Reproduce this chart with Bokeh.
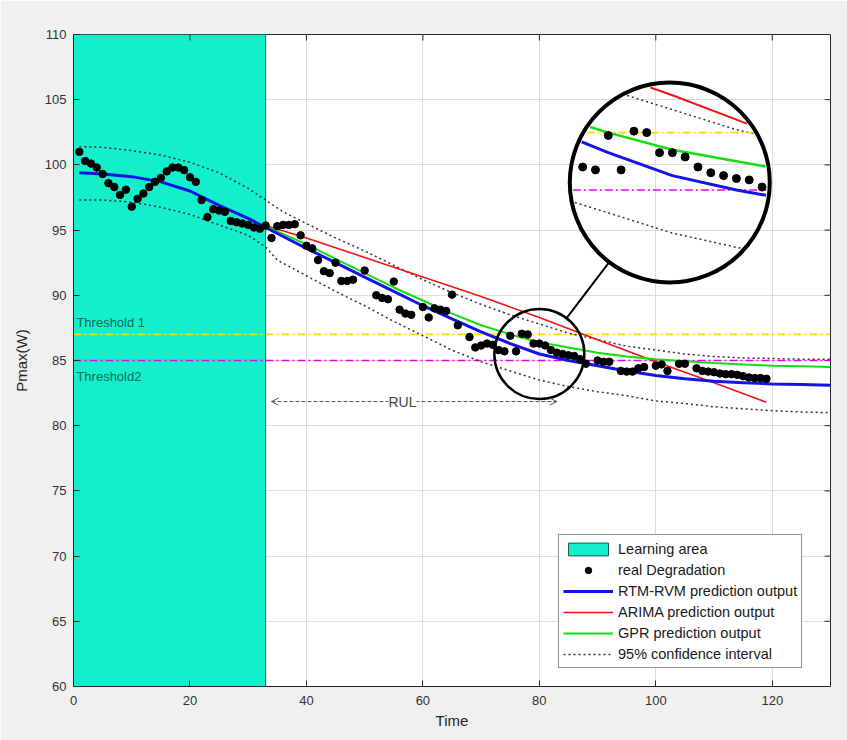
import numpy as np
from bokeh.plotting import figure
from bokeh.models import (FixedTicker, Legend, LegendItem, Arrow, OpenHead, Label)
from bokeh.embed import file_html
from bokeh.resources import INLINE

# ---------------- data ----------------
deg_t = [1, 2, 3, 4, 5, 6, 7, 8, 9, 10, 11, 12, 13, 14, 15, 16, 17, 18, 19, 20, 21, 22, 23, 24, 25,
         26, 27, 28, 29, 30, 31, 32, 33,
         34, 35, 36, 37, 38, 39, 40, 41, 42, 43, 44, 45, 46, 47, 48, 50, 52, 53, 54, 55, 56, 57, 58,
         60, 61, 62, 63, 64, 65, 66, 68, 69, 70, 71, 72,
         73, 74, 75, 76, 77, 78, 79, 80, 81, 82, 83, 84, 85, 86, 87, 88,
         90, 91, 92, 94, 95, 96, 97, 98, 100, 101, 102, 104, 105,
         107, 108, 109, 110, 111, 112, 113, 114, 115, 116, 117, 118, 119]
deg_v = [101.0, 100.3, 100.1, 99.8, 99.3, 98.6, 98.3, 97.7, 98.1, 96.8, 97.4, 97.8, 98.3, 98.7,
         99.0, 99.5, 99.8, 99.8, 99.6, 99.05, 98.7, 97.3, 96.0, 96.6, 96.5, 96.4, 95.7, 95.6,
         95.5, 95.4, 95.2, 95.1, 95.35,
         94.4, 95.3, 95.4, 95.4, 95.45, 94.6, 93.8, 93.6, 92.7, 91.85, 91.7, 92.5, 91.1, 91.1,
         91.2, 91.9, 90.0, 89.8, 89.7, 91.05, 88.9, 88.6, 88.5, 89.1, 88.3, 89.0, 88.9, 88.8,
         90.05, 87.7, 86.8, 86.0, 86.15, 86.3, 86.2,
         85.8, 85.7, 86.9, 85.7, 87.05, 87.0, 86.3, 86.3, 86.15, 85.8, 85.6, 85.5, 85.4, 85.35,
         85.1, 84.75,
         85.0, 84.9, 84.9, 84.2, 84.15, 84.15, 84.4, 84.5, 84.6, 84.7, 84.2, 84.75, 84.75,
         84.4, 84.2, 84.15, 84.1, 84.0, 83.95, 83.95, 83.9, 83.8, 83.7, 83.65, 83.65, 83.6]

rvm_t = [1, 5, 10, 15, 20, 25, 30, 33, 40, 45, 50, 55, 60, 65, 70, 75, 80, 85, 90, 95, 100,
         105, 110, 115, 120, 125, 130]
rvm_v = [99.4, 99.3, 99.1, 98.7, 98.0, 96.9, 95.9, 95.2, 93.6, 92.5, 91.4, 90.3, 89.2, 88.2,
         87.2, 86.3, 85.5, 85.0, 84.6, 84.2, 83.85, 83.6, 83.4, 83.3, 83.2, 83.15, 83.1]

arima_t = [33, 40, 50, 60, 70, 80, 90, 100, 110, 119]
arima_v = [95.35, 94.4, 92.9, 91.4, 89.9, 88.3, 86.6, 84.9, 83.3, 81.8]

gpr_t = [33, 40, 45, 50, 55, 60, 65, 70, 75, 80, 85, 90, 95, 100, 105, 110, 115, 120, 125, 130]
gpr_v = [95.3, 93.9, 92.8, 91.7, 90.6, 89.6, 88.6, 87.7, 87.0, 86.4, 86.0, 85.6, 85.3, 85.1,
         84.95, 84.8, 84.7, 84.6, 84.55, 84.5]

ci_up_t = [1, 5, 10, 15, 20, 25, 30, 33, 36, 40, 45, 50, 55, 60, 65, 70, 75, 80, 85, 90, 95,
           100, 105, 110, 115, 120, 125, 130]
ci_up_v = [101.4, 101.35, 101.1, 100.75, 100.2, 99.4, 98.2, 97.3, 96.4, 95.5, 94.4, 93.4, 92.3,
           91.2, 90.2, 89.3, 88.5, 87.8, 87.1, 86.6, 86.1, 85.8, 85.5, 85.3, 85.2, 85.15, 85.1, 85.1]

ci_lo_t = [1, 5, 10, 15, 20, 25, 30, 33, 35, 40, 45, 50, 55, 60, 65, 70, 75, 80, 85, 90, 95,
           100, 105, 110, 115, 120, 125, 130]
ci_lo_v = [97.3, 97.3, 97.15, 96.75, 96.2, 95.4, 94.6, 93.7, 92.7, 91.5, 90.3, 89.2, 88.0, 86.9,
           85.8, 84.9, 84.2, 83.5, 83.0, 82.6, 82.3, 81.9, 81.7, 81.45, 81.3, 81.15, 81.05, 81.0]

threshold1 = 87
threshold2 = 85
learning_end = 33
rul_start, rul_end = 34, 83
x_ticks = [0, 20, 40, 60, 80, 100, 120]
y_ticks = [60, 65, 70, 75, 80, 85, 90, 95, 100, 105, 110]

# ---------------- layout ----------------
W, H = 847, 740
BL, BR, BT, BB = 73, 17, 34, 54
FW, FH = W - BL - BR, H - BT - BB
X0, X1, Y0, Y1 = 0, 130, 60, 110
sx = FW / (X1 - X0)
sy = FH / (Y1 - Y0)
TICK = 6

FONT = "Liberation Sans"
C_BLUE = "#1414E6"
C_RED = "#F01414"
C_GREEN = "#10E010"
C_YEL = "#FFD800"
C_MAG = "#F000F0"
C_DOT = "#333333"
C_LEARN = "#14EFCB"
C_AX = "#262626"

p = figure(width=W, height=H, x_range=(X0, X1), y_range=(Y0, Y1),
           output_backend="svg", toolbar_location=None,
           min_border_left=BL, min_border_right=BR, min_border_top=BT, min_border_bottom=BB)
p.border_fill_color = "#F0F0F0"
p.background_fill_color = "white"
p.outline_line_color = C_AX
p.outline_line_width = 1

for ax in (p.xaxis[0], p.yaxis[0]):
    ax.major_label_text_font = FONT
    ax.major_label_text_font_size = "13px"
    ax.major_label_text_color = "#333333"
    ax.axis_label_text_font = FONT
    ax.axis_label_text_font_size = "15px"
    ax.axis_label_text_font_style = "normal"
    ax.axis_label_text_color = C_AX
    ax.major_tick_in = TICK
    ax.major_tick_out = 0
    ax.minor_tick_in = 0
    ax.minor_tick_out = 0
    ax.axis_line_color = C_AX
    ax.major_tick_line_color = C_AX
p.xaxis.ticker = FixedTicker(ticks=x_ticks)
p.yaxis.ticker = FixedTicker(ticks=y_ticks)
p.xaxis.axis_label = "Time"
p.yaxis.axis_label = "Pmax(W)"
p.xaxis.major_label_standoff = 9
p.yaxis.major_label_standoff = 7
p.xaxis.axis_label_standoff = 4
p.yaxis.axis_label_standoff = 12

p.xgrid.grid_line_color = "#DCDCDC"
p.ygrid.grid_line_color = "#DCDCDC"

# learning area
learn = p.quad(left=[X0], right=[learning_end], bottom=[Y0], top=[Y1],
               fill_color=C_LEARN, line_color="#1E5A50", line_width=1)

# box ticks on top and right (mirror of the bottom/left ticks)
p.segment(x0=x_ticks, x1=x_ticks, y0=[Y1] * len(x_ticks), y1=[Y1 - TICK / sy] * len(x_ticks),
          line_color=C_AX, line_width=1)
p.segment(x0=[X1] * len(y_ticks), x1=[X1 - TICK / sx] * len(y_ticks), y0=y_ticks, y1=y_ticks,
          line_color=C_AX, line_width=1)

# thresholds
p.line([X0, X1], [threshold1, threshold1], line_color=C_YEL, line_width=1.6,
       line_dash="8 3 2 3")
p.line([X0, X1], [threshold2, threshold2], line_color=C_MAG, line_width=1.6,
       line_dash="8 3 2 3")

# confidence interval
ci_up = p.line(ci_up_t, ci_up_v, line_color=C_DOT, line_width=1.5, line_dash="2 3")
ci_lo = p.line(ci_lo_t, ci_lo_v, line_color=C_DOT, line_width=1.5, line_dash="2 3")

# predictions
arima = p.line(arima_t, arima_v, line_color=C_RED, line_width=1.6)
gpr = p.line(gpr_t, gpr_v, line_color=C_GREEN, line_width=2)
rvm = p.line(rvm_t, rvm_v, line_color=C_BLUE, line_width=3)

# degradation points
deg = p.scatter(deg_t, deg_v, marker="circle", size=7.5, fill_color="black", line_color="black")

# threshold labels
p.add_layout(Label(x=0.5, y=87.9, text="Threshold 1", text_baseline="middle",
                   text_font=FONT, text_font_size="13px", text_color="#0C6B58"))
p.add_layout(Label(x=0.5, y=83.8, text="Threshold2", text_baseline="middle",
                   text_font=FONT, text_font_size="13px", text_color="#0C6B58"))

# RUL arrow
rul_y = 81.85
p.add_layout(Arrow(start=OpenHead(size=7, line_color="#555555", line_width=1),
                   end=OpenHead(size=7, line_color="#555555", line_width=1),
                   x_start=rul_start, y_start=rul_y, x_end=rul_end, y_end=rul_y,
                   line_color="#555555", line_width=1, line_dash="4 2"))
p.add_layout(Label(x=(rul_start + rul_end) / 2 - 2, y=rul_y, text="RUL", text_align="center",
                   text_baseline="middle", text_font=FONT, text_font_size="14px",
                   text_color="#444444", background_fill_color="white",
                   background_fill_alpha=1.0))

# ---------------- magnifier ----------------
small_c = (80.0, 85.5)          # drawn small circle (data)
small_r = 45                    # px
content_c = (79.8, 85.26)       # content centre (data)
big_c = (102.4, 98.65)          # big circle (data)
big_r = 100                     # px
mag = 2.2


def to_px(t, v):
    return np.asarray(t, float) * sx, np.asarray(v, float) * sy


def magnify(t, v):
    X, Y = to_px(t, v)
    cx, cy = to_px(*content_c)
    bx, by = to_px(*big_c)
    return bx + mag * (X - cx), by + mag * (Y - cy)


def clip_poly(X, Y, c, R):
    pieces = []
    cur = None
    c = np.array(c)
    for i in range(len(X) - 1):
        p0 = np.array([X[i], Y[i]])
        p1 = np.array([X[i + 1], Y[i + 1]])
        d = p1 - p0
        f = p0 - c
        a = d @ d
        b = 2 * f @ d
        cc = f @ f - R * R
        disc = b * b - 4 * a * cc
        if a == 0 or disc <= 0:
            cur = None
            continue
        sq = np.sqrt(disc)
        lo = max(0.0, (-b - sq) / (2 * a))
        hi = min(1.0, (-b + sq) / (2 * a))
        if lo >= hi:
            cur = None
            continue
        q0 = p0 + lo * d
        q1 = p0 + hi * d
        if cur is not None and lo == 0.0:
            cur.append(q1)
        else:
            cur = [q0, q1]
            pieces.append(cur)
        if hi < 1.0:
            cur = None
    xs = [[q[0] / sx for q in pc] for pc in pieces]
    ys = [[q[1] / sy for q in pc] for pc in pieces]
    return xs, ys


bcx, bcy = to_px(*big_c)
Rc = big_r - 3
inset_specs = [
    (ci_up_t, ci_up_v, dict(line_color=C_DOT, line_width=1.5, line_dash="2 3")),
    (ci_lo_t, ci_lo_v, dict(line_color=C_DOT, line_width=1.5, line_dash="2 3")),
    ([X0, X1], [threshold1] * 2, dict(line_color=C_YEL, line_width=1.6, line_dash="8 3 2 3")),
    ([X0, X1], [threshold2] * 2, dict(line_color=C_MAG, line_width=1.6, line_dash="8 3 2 3")),
    (arima_t, arima_v, dict(line_color=C_RED, line_width=2)),
    (gpr_t, gpr_v, dict(line_color=C_GREEN, line_width=2.5)),
    (rvm_t, rvm_v, dict(line_color=C_BLUE, line_width=3)),
]
for t, v, style in inset_specs:
    MX, MY = magnify(t, v)
    xs, ys = clip_poly(MX, MY, (bcx, bcy), Rc)
    if xs:
        p.multi_line(xs, ys, **style)

MX, MY = magnify(deg_t, deg_v)
keep = np.hypot(MX - bcx, MY - bcy) < Rc - 4
p.scatter(list(MX[keep] / sx), list(MY[keep] / sy), marker="circle", size=8,
          fill_color="black", line_color="black")

# circles
p.circle([small_c[0]], [small_c[1]], radius=small_r, radius_units="screen",
         fill_color=None, line_color="black", line_width=2.5)
p.circle([big_c[0]], [big_c[1]], radius=big_r, radius_units="screen",
         fill_color=None, line_color="black", line_width=4)

# connector
scx, scy = to_px(*small_c)
dx, dy = bcx - scx, bcy - scy
L = np.hypot(dx, dy)
ux, uy = dx / L, dy / L
p.line([(scx + ux * small_r) / sx, (bcx - ux * big_r) / sx],
       [(scy + uy * small_r) / sy, (bcy - uy * big_r) / sy],
       line_color="black", line_width=2)

# ---------------- legend ----------------
legend = Legend(items=[
    LegendItem(label="Learning area", renderers=[learn]),
    LegendItem(label="real Degradation", renderers=[deg]),
    LegendItem(label="RTM-RVM prediction output", renderers=[rvm]),
    LegendItem(label="ARIMA prediction output", renderers=[arima]),
    LegendItem(label="GPR prediction output", renderers=[gpr]),
    LegendItem(label="95% confidence interval", renderers=[ci_up]),
], location=(485, 18))
legend.border_line_color = C_AX
legend.border_line_width = 1
legend.background_fill_color = "white"
legend.background_fill_alpha = 1.0
legend.label_text_font = FONT
legend.label_text_font_size = "14.5px"
legend.label_text_color = "#1A1A1A"
legend.glyph_width = 50
legend.glyph_height = 16
legend.label_height = 19
legend.spacing = 2
legend.padding = 4
legend.margin = 0
legend.label_standoff = 5
p.add_layout(legend)

open("out.html", "w").write(file_html(p, INLINE))
